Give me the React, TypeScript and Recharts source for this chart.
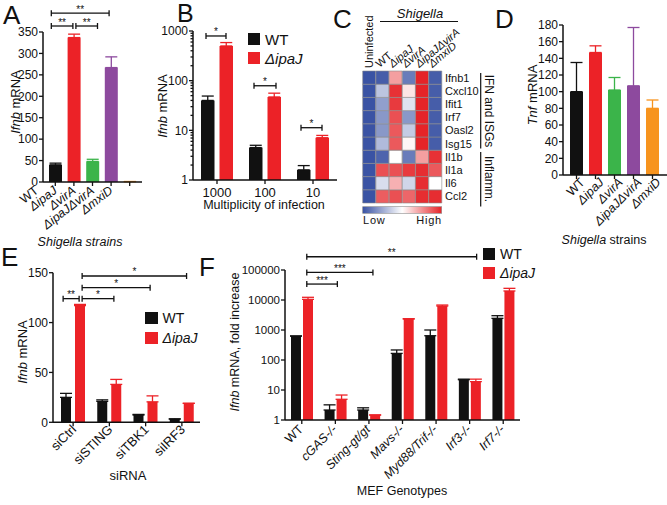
import React from "react";
import { BarChart, Bar, XAxis, YAxis, ErrorBar, Cell, ReferenceLine, Legend } from "recharts";

const FONT = "'Liberation Sans', Arial, Helvetica, sans-serif";
const INK = "#111111";
const RED = "#ec2227";

// A and D: Shigella strains
const strains = ["WT", "ΔipaJ", "ΔvirA", "ΔipaJΔvirA", "ΔmxiD"];
const strainColors = ["#111111", RED, "#3bb44a", "#8d4a9e", "#f7941e"];
const ifnbByStrain = [40, 337, 48, 267, 1];
const ifnbByStrainErr = [4, 8, 5, 25, 0];
const tnfByStrain = [100, 147, 102, 107, 80];
const tnfByStrainErr = [35, 8, 15, 70, 10];

// B: multiplicity of infection
const moi = ["1000", "100", "10"];
const moiWT = [40, 4.5, 1.6];
const moiWTErr = [9, 0.5, 0.35];
const moiIpaJ = [500, 47, 7.1];
const moiIpaJErr = [85, 9, 0.8];
const logTicksB = [1, 10, 100, 1000];
const minorTicksB = [2, 3, 4, 5, 6, 7, 8, 9, 20, 30, 40, 50, 60, 70, 80, 90, 200, 300, 400, 500, 600, 700, 800, 900];

// C: heatmap
const heatCols = ["Uninfected", "WT", "ΔipaJ", "ΔvirA", "ΔipaJΔvirA", "ΔmxiD"];
const heatRows = ["Ifnb1", "Cxcl10", "Ifit1", "Irf7", "Oasl2", "Isg15", "Il1b", "Il1a", "Il6", "Ccl2"];
const heatValues = [
  [0, 0.03, 0.72, 0.12, 1, 0.03],
  [0, 0.33, 0.97, 0.56, 1, 0.03],
  [0, 0.22, 0.95, 0.42, 1, 0.03],
  [0, 0.2, 0.9, 0.2, 1, 0.03],
  [0, 0.2, 0.88, 0.35, 1, 0.03],
  [0, 0.3, 0.88, 0.52, 1, 0.03],
  [0, 0.05, 0.5, 0.12, 0.72, 0.97],
  [0, 0.9, 0.9, 0.95, 0.98, 0.88],
  [0, 0.4, 0.68, 0.38, 0.98, 0.5],
  [0, 0.87, 0.9, 0.85, 0.98, 0.98],
];

// E: siRNA
const sirna = ["siCtrl", "siSTING", "siTBK1", "siIRF3"];
const sirnaWT = [25, 21, 7.3, 3.2];
const sirnaWTErr = [4, 1.5, 0.6, 0.3];
const sirnaIpaJ = [117, 38, 20.5, 19];
const sirnaIpaJErr = [1.2, 5, 6, 0];

// F: MEF genotypes
const genotypes = ["WT", "cGAS-/-", "Sting-gt/gt", "Mavs-/-", "Myd88/Trif-/-", "Irf3-/-", "Irf7-/-"];
const mefWT = [630, 2.15, 2.15, 166, 645, 22, 2450];
const mefWTErr = [0, 1.05, 0.4, 50, 355, 1, 550];
const mefIpaJ = [10500, 4.9, 1.47, 2330, 6300, 19, 20000];
const mefIpaJErr = [1800, 1.9, 0, 50, 500, 4, 4500];
const logTicksF = [1, 10, 100, 1000, 10000, 100000];

const strainData = (vals: number[], errs: number[]) =>
  strains.map((s, i) => ({ name: s, ["v" + i]: vals[i], ["e" + i]: [0, errs[i]] }));

const pairData = (cats: string[], wt: number[], wtE: number[], mu: number[], muE: number[]) =>
  cats.map((c, i) => ({ name: c, wt: wt[i], wtErr: [0, wtE[i]], ipaj: mu[i], ipajErr: [0, muE[i]] }));

const dataA = strainData(ifnbByStrain, ifnbByStrainErr);
const dataD = strainData(tnfByStrain, tnfByStrainErr);
const dataB = pairData(moi, moiWT, moiWTErr, moiIpaJ, moiIpaJErr);
const dataE = pairData(sirna, sirnaWT, sirnaWTErr, sirnaIpaJ, sirnaIpaJErr);
const dataF = pairData(genotypes, mefWT, mefWTErr, mefIpaJ, mefIpaJErr);
const dataC = heatCols.map((c) => {
  const row: any = { name: c };
  heatRows.forEach((r) => (row[r] = 1));
  return row;
});

const BLUE = [58, 83, 164];
const WHITE = [255, 255, 255];
const HRED = [229, 36, 40];
const mix = (a: number[], b: number[], t: number) =>
  `rgb(${a.map((v, i) => Math.round(v + (b[i] - v) * t)).join(",")})`;
const heatColor = (v: number) => (v < 0.5 ? mix(BLUE, WHITE, v / 0.5) : mix(WHITE, HRED, (v - 0.5) / 0.5));

const axisLine = { stroke: INK, strokeWidth: 1.5 };

function yTick(fs: number, minor?: number[]) {
  return (p: any) => {
    const isMinor = minor ? minor.includes(p.payload.value) : false;
    return (
      <g>
        <line x1={p.x - (isMinor ? 2.5 : 4)} x2={p.x} y1={p.y} y2={p.y} stroke={INK} strokeWidth={1.3} />
        {!isMinor && (
          <text x={p.x - 5} y={p.y} dy="0.36em" textAnchor="end" fontSize={fs} fontFamily={FONT} fill={INK}>
            {p.payload.value}
          </text>
        )}
      </g>
    );
  };
}

function xTick(dx: number, dy: number, angle: number, fs: number, italic: (s: string) => boolean) {
  return (p: any) => (
    <text
      transform={`translate(${p.x + dx},${p.y + dy}) rotate(${angle})`}
      textAnchor={angle === 0 ? "middle" : "end"}
      fontSize={fs}
      fontFamily={FONT}
      fontStyle={italic(p.payload.value) ? "italic" : "normal"}
      fill={INK}
    >
      {p.payload.value}
    </text>
  );
}

function bracket(label: string, dx1: number, dx2: number) {
  return (p: any) => {
    const x1 = p.x1 + dx1;
    const x2 = p.x2 + dx2;
    const y = p.y1;
    return (
      <g>
        <line x1={x1} x2={x2} y1={y} y2={y} stroke={INK} strokeWidth={1.3} />
        <line x1={x1} x2={x1} y1={y - 3} y2={y + 3} stroke={INK} strokeWidth={1.3} />
        <line x1={x2} x2={x2} y1={y - 3} y2={y + 3} stroke={INK} strokeWidth={1.3} />
        <text x={(x1 + x2) / 2} y={y - 0.5} textAnchor="middle" fontSize={10} fontFamily={FONT} fill={INK}>
          {label}
        </text>
      </g>
    );
  };
}

function legendBox(fs: number, pitch: number, sq: number) {
  return (props: any) => (
    <div style={{ fontFamily: FONT, fontSize: fs, color: INK }}>
      {(props.payload || []).map((e: any) => (
        <div key={e.value} style={{ display: "flex", alignItems: "center", height: pitch }}>
          <span style={{ width: sq, height: sq, background: e.color, display: "inline-block" }} />
          <span style={{ marginLeft: 5, fontStyle: e.value.startsWith("Δ") ? "italic" : "normal" }}>{e.value}</span>
        </div>
      ))}
    </div>
  );
}

const isDelta = (s: string) => s.startsWith("Δ");

function StrainPanel({ data, domain, ticks, yW, margin, w, h, xH, pad, labelDx, labelDy, angle, children }: any) {
  return (
    <BarChart width={w} height={h} data={data} margin={margin} barSize={13}>
      <XAxis
        dataKey="name"
        height={xH}
        padding={pad}
        axisLine={axisLine}
        tickLine={{ stroke: INK, strokeWidth: 1.3 }}
        tickSize={4}
        tickMargin={0}
        interval={0}
        tick={xTick(labelDx, labelDy, angle, 12.5, isDelta)}
      />
      <YAxis
        width={yW}
        type="number"
        domain={domain}
        ticks={ticks}
        allowDataOverflow
        interval={0}
        axisLine={axisLine}
        tickLine={false}
        tickSize={0}
        tickMargin={0}
        tick={yTick(12)}
      />
      {strains.map((s, i) => (
        <Bar key={s} dataKey={"v" + i} stackId="s" fill={strainColors[i]} isAnimationActive={false}>
          <ErrorBar dataKey={"e" + i} width={6} stroke={strainColors[i]} strokeWidth={1.3} direction="y" />
        </Bar>
      ))}
      {children}
    </BarChart>
  );
}

export default function App() {
  return (
    <div
      style={{
        position: "absolute",
        left: 0,
        top: 0,
        width: 667,
        height: 505,
        background: "#fff",
        overflow: "hidden",
        fontFamily: FONT,
      }}
    >
      {/* A */}
      <div style={{ position: "absolute", left: 0, top: 0 }}>
        <StrainPanel
          data={dataA}
          w={150}
          h={250}
          margin={{ top: 32, right: 8, left: 0, bottom: 0 }}
          yW={43}
          xH={68}
          pad={{ left: 3, right: 3 }}
          domain={[0, 350]}
          ticks={[0, 50, 100, 150, 200, 250, 300, 350]}
          labelDx={-16}
          labelDy={6}
          angle={-38}
        >
          <ReferenceLine segment={[{ x: "WT", y: 394 }, { x: "ΔipaJΔvirA", y: 394 }]} ifOverflow="visible" stroke={INK} shape={bracket("**", -4, -2)} />
          <ReferenceLine segment={[{ x: "WT", y: 364 }, { x: "ΔipaJ", y: 364 }]} ifOverflow="visible" stroke={INK} shape={bracket("**", -4, -1)} />
          <ReferenceLine segment={[{ x: "ΔipaJ", y: 364 }, { x: "ΔvirA", y: 364 }]} ifOverflow="visible" stroke={INK} shape={bracket("**", 2, 5)} />
        </StrainPanel>
      </div>

      {/* B */}
      <div style={{ position: "absolute", left: 150, top: 0 }}>
        <BarChart width={187} height={250} data={dataB} margin={{ top: 31, right: 0, left: 0, bottom: 0 }} barSize={13.5} barGap={5}>
          <XAxis
            dataKey="name"
            height={70}
            axisLine={axisLine}
            tickLine={{ stroke: INK, strokeWidth: 1.3 }}
            tickSize={4}
            tickMargin={0}
            interval={0}
            tick={xTick(0, 13, 0, 13, () => false)}
          />
          <YAxis
            width={43}
            type="number"
            scale="log"
            domain={[1, 1000]}
            ticks={[...logTicksB, ...minorTicksB]}
            allowDataOverflow
            interval={0}
            axisLine={axisLine}
            tickLine={false}
            tickSize={0}
            tickMargin={0}
            tick={yTick(12, minorTicksB)}
          />
          <Bar dataKey="wt" name="WT" fill={INK} isAnimationActive={false}>
            <ErrorBar dataKey="wtErr" width={6} stroke={INK} strokeWidth={1.3} direction="y" />
          </Bar>
          <Bar dataKey="ipaj" name="ΔipaJ" fill={RED} isAnimationActive={false}>
            <ErrorBar dataKey="ipajErr" width={6} stroke={RED} strokeWidth={1.3} direction="y" />
          </Bar>
          <ReferenceLine segment={[{ x: "1000", y: 794 }, { x: "1000", y: 794 }]} ifOverflow="visible" stroke={INK} shape={bracket("*", -11, 9)} />
          <ReferenceLine segment={[{ x: "100", y: 79 }, { x: "100", y: 79 }]} ifOverflow="visible" stroke={INK} shape={bracket("*", -11, 11)} />
          <ReferenceLine segment={[{ x: "10", y: 11.3 }, { x: "10", y: 11.3 }]} ifOverflow="visible" stroke={INK} shape={bracket("*", -12, 9)} />
          <Legend
            layout="vertical"
            align="center"
            verticalAlign="middle"
            wrapperStyle={{ left: 98, top: 29.5, width: 80, height: 40 }}
            content={legendBox(15, 19, 12)}
          />
        </BarChart>
      </div>

      {/* C */}
      <div style={{ position: "absolute", left: 350, top: 0 }}>
        <BarChart width={142} height={204} data={dataC} margin={{ top: 0, right: 0, left: 12.7, bottom: 1 }} barCategoryGap={0}>
          <XAxis
            dataKey="name"
            orientation="top"
            height={71}
            axisLine={false}
            tickLine={false}
            tickSize={0}
            tickMargin={3}
            interval={0}
            tick={(p: any) =>
              p.payload.value === "Uninfected" ? (
                <text transform={`translate(${p.x + 4},${p.y}) rotate(-90)`} fontSize={11} fontFamily={FONT} fill={INK}>
                  {p.payload.value}
                </text>
              ) : (
                <text transform={`translate(${p.x - 3},${p.y}) rotate(-40)`} fontSize={11} fontFamily={FONT} fill={INK} fontStyle={isDelta(p.payload.value) ? "italic" : "normal"}>
                  {p.payload.value}
                </text>
              )
            }
          />
          <YAxis
            orientation="right"
            width={50}
            type="number"
            domain={[0, heatRows.length]}
            ticks={heatRows.map((_, i) => heatRows.length - 0.5 - i)}
            interval={0}
            axisLine={false}
            tickLine={false}
            tickSize={0}
            tickMargin={3}
            tick={(p: any) => (
              <text x={p.x} y={p.y} dy="0.36em" fontSize={11} fontFamily={FONT} fill={INK}>
                {heatRows[Math.round(heatRows.length - 0.5 - p.payload.value)]}
              </text>
            )}
          />
          {heatRows
            .map((r, i) => ({ r, i }))
            .reverse()
            .map(({ r, i }) => (
              <Bar key={r} dataKey={r} stackId="h" isAnimationActive={false}>
                {heatCols.map((c, j) => (
                  <Cell key={c} fill={heatColor(heatValues[i][j])} stroke="#8c8c8c" strokeWidth={0.6} />
                ))}
              </Bar>
            ))}
        </BarChart>
      </div>

      {/* D */}
      <div style={{ position: "absolute", left: 490, top: 0 }}>
        <StrainPanel
          data={dataD}
          w={177}
          h={250}
          margin={{ top: 25, right: 0, left: 0, bottom: 0 }}
          yW={73}
          xH={75}
          pad={{ left: 4, right: 5 }}
          domain={[0, 180]}
          ticks={[0, 20, 40, 60, 80, 100, 120, 140, 160, 180]}
          labelDx={9}
          labelDy={4}
          angle={-45}
        />
      </div>

      {/* E */}
      <div style={{ position: "absolute", left: 0, top: 240 }}>
        <BarChart width={210} height={265} data={dataE} margin={{ top: 32.7, right: 10, left: 0, bottom: 0 }} barSize={10} barGap={4}>
          <XAxis
            dataKey="name"
            height={82.7}
            padding={{ left: 2, right: 0 }}
            axisLine={axisLine}
            tickLine={{ stroke: INK, strokeWidth: 1.3 }}
            tickSize={4}
            tickMargin={0}
            interval={0}
            tick={xTick(4, 4, -45, 13, () => false)}
          />
          <YAxis
            width={53}
            type="number"
            domain={[0, 150]}
            ticks={[0, 50, 100, 150]}
            allowDataOverflow
            interval={0}
            axisLine={axisLine}
            tickLine={false}
            tickSize={0}
            tickMargin={0}
            tick={yTick(12)}
          />
          <Bar dataKey="wt" name="WT" fill={INK} isAnimationActive={false}>
            <ErrorBar dataKey="wtErr" width={6} stroke={INK} strokeWidth={1.3} direction="y" />
          </Bar>
          <Bar dataKey="ipaj" name="ΔipaJ" fill={RED} isAnimationActive={false}>
            <ErrorBar dataKey="ipajErr" width={6} stroke={RED} strokeWidth={1.3} direction="y" />
          </Bar>
          <ReferenceLine segment={[{ x: "siCtrl", y: 124 }, { x: "siCtrl", y: 124 }]} ifOverflow="visible" stroke={INK} shape={bracket("**", -10, 6)} />
          <ReferenceLine segment={[{ x: "siCtrl", y: 124 }, { x: "siSTING", y: 124 }]} ifOverflow="visible" stroke={INK} shape={bracket("*", 9, 4.5)} />
          <ReferenceLine segment={[{ x: "siCtrl", y: 135 }, { x: "siTBK1", y: 135 }]} ifOverflow="visible" stroke={INK} shape={bracket("*", 9, 4.5)} />
          <ReferenceLine segment={[{ x: "siCtrl", y: 146.7 }, { x: "siIRF3", y: 146.7 }]} ifOverflow="visible" stroke={INK} shape={bracket("*", 9, 4.7)} />
          <Legend
            layout="vertical"
            align="center"
            verticalAlign="middle"
            wrapperStyle={{ left: 145, top: 68, width: 80, height: 40 }}
            content={legendBox(14, 20, 12.5)}
          />
        </BarChart>
      </div>

      {/* F */}
      <div style={{ position: "absolute", left: 210, top: 240 }}>
        <BarChart width={310} height={265} data={dataF} margin={{ top: 30, right: 0, left: 0, bottom: 0 }} barSize={10} barGap={2}>
          <XAxis
            dataKey="name"
            height={85}
            axisLine={axisLine}
            tickLine={{ stroke: INK, strokeWidth: 1.3 }}
            tickSize={4}
            tickMargin={0}
            interval={0}
            tick={xTick(2, 6, -45, 12.5, (s) => s !== "WT")}
          />
          <YAxis
            width={75}
            type="number"
            scale="log"
            domain={[1, 100000]}
            ticks={logTicksF}
            allowDataOverflow
            interval={0}
            axisLine={axisLine}
            tickLine={false}
            tickSize={0}
            tickMargin={0}
            tick={yTick(11.5)}
          />
          <Bar dataKey="wt" name="WT" fill={INK} isAnimationActive={false}>
            <ErrorBar dataKey="wtErr" width={6} stroke={INK} strokeWidth={1.3} direction="y" />
          </Bar>
          <Bar dataKey="ipaj" name="ΔipaJ" fill={RED} isAnimationActive={false}>
            <ErrorBar dataKey="ipajErr" width={6} stroke={RED} strokeWidth={1.3} direction="y" />
          </Bar>
          <ReferenceLine segment={[{ x: "WT", y: 34000 }, { x: "cGAS-/-", y: 34000 }]} ifOverflow="visible" stroke={INK} shape={bracket("***", 5, 2)} />
          <ReferenceLine segment={[{ x: "WT", y: 83000 }, { x: "Sting-gt/gt", y: 83000 }]} ifOverflow="visible" stroke={INK} shape={bracket("***", 5, 4)} />
          <ReferenceLine segment={[{ x: "WT", y: 277000 }, { x: "Irf3-/-", y: 277000 }]} ifOverflow="visible" stroke={INK} shape={bracket("**", 5, 7)} />
          <Legend
            layout="vertical"
            align="center"
            verticalAlign="middle"
            wrapperStyle={{ left: 273, top: 4.75, width: 80, height: 40 }}
            content={legendBox(14, 18.5, 12)}
          />
        </BarChart>
      </div>

      {/* titles and annotations */}
      <svg width={667} height={505} style={{ position: "absolute", left: 0, top: 0, pointerEvents: "none" }} fontFamily={FONT} fill={INK}>
        <text x={3} y={24} fontSize={26}>A</text>
        <text x={177} y={22} fontSize={25}>B</text>
        <text x={333} y={28} fontSize={26}>C</text>
        <text x={495} y={28} fontSize={26}>D</text>
        <text x={1} y={266} fontSize={26}>E</text>
        <text x={199} y={276} fontSize={26}>F</text>

        <text transform="translate(20,102) rotate(-90)" textAnchor="middle" fontSize={13}>
          <tspan fontStyle="italic">Ifnb</tspan> mRNA
        </text>
        <text transform="translate(167,106) rotate(-90)" textAnchor="middle" fontSize={13}>
          <tspan fontStyle="italic">Ifnb</tspan> mRNA
        </text>
        <text transform="translate(537,95) rotate(-90)" textAnchor="middle" fontSize={13}>
          <tspan fontStyle="italic">Tnf</tspan> mRNA
        </text>
        <text transform="translate(27,352) rotate(-90)" textAnchor="middle" fontSize={13}>
          <tspan fontStyle="italic">Ifnb</tspan> mRNA
        </text>
        <text transform="translate(239,342) rotate(-90)" textAnchor="middle" fontSize={12.5}>
          <tspan fontStyle="italic">Ifnb</tspan> mRNA,  fold increase
        </text>

        <text x={80} y={246} textAnchor="middle" fontSize={12.5} fontStyle="italic">Shigella strains</text>
        <text x={264} y={209} textAnchor="middle" fontSize={12.5}>Multiplicity of infection</text>
        <text x={604} y={244} textAnchor="middle" fontSize={12.5}>
          <tspan fontStyle="italic">Shigella</tspan> strains
        </text>
        <text x={128} y={480} textAnchor="middle" fontSize={13}>siRNA</text>
        <text x={402} y={495} textAnchor="middle" fontSize={12.5}>MEF Genotypes</text>

        <text x={420} y={18} textAnchor="middle" fontSize={13} fontStyle="italic">Shigella</text>
        <line x1={380} x2={458} y1={21.5} y2={21.5} stroke={INK} strokeWidth={1.2} />
        <line x1={480.7} x2={480.7} y1={73} y2={148.5} stroke={INK} strokeWidth={1.2} />
        <line x1={480.7} x2={480.7} y1={152} y2={206.5} stroke={INK} strokeWidth={1.2} />
        <text transform="translate(485,111) rotate(90)" textAnchor="middle" fontSize={12}>IFN and ISGs</text>
        <text transform="translate(485,179) rotate(90)" textAnchor="middle" fontSize={12}>Inflamm.</text>
        <defs>
          <linearGradient id="heatbar" x1="0" x2="1" y1="0" y2="0">
            <stop offset="0" stopColor={heatColor(0)} />
            <stop offset="0.5" stopColor={heatColor(0.5)} />
            <stop offset="1" stopColor={heatColor(1)} />
          </linearGradient>
        </defs>
        <rect x={362.7} y={206.7} width={79} height={6.6} fill="url(#heatbar)" stroke="#8c8c8c" strokeWidth={0.6} />
        <text x={363} y={224} fontSize={11} letterSpacing={0.8}>Low</text>
        <text x={442} y={224} textAnchor="end" fontSize={11} letterSpacing={0.8}>High</text>
      </svg>
    </div>
  );
}
